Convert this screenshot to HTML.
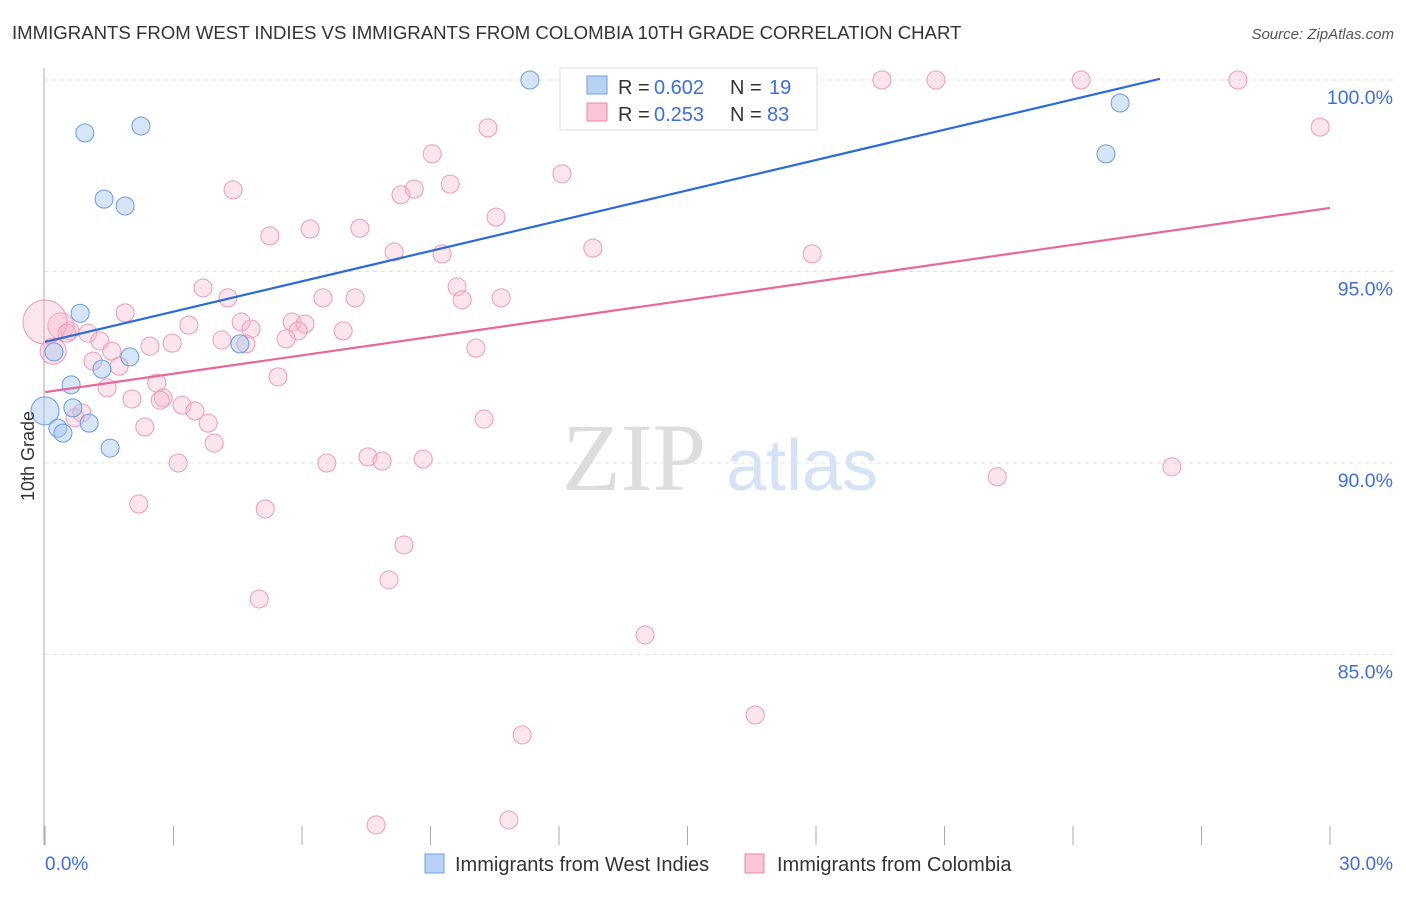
<!DOCTYPE html>
<html><head><meta charset="utf-8"><style>
body{margin:0;background:#fff;font-family:"Liberation Sans",sans-serif}
svg text{font-family:"Liberation Sans",sans-serif}
</style></head><body>
<svg id="c" width="1406" height="892" xmlns="http://www.w3.org/2000/svg">
<text x="12" y="39" font-size="18.6" fill="#333">IMMIGRANTS FROM WEST INDIES VS IMMIGRANTS FROM COLOMBIA 10TH GRADE CORRELATION CHART</text>
<text x="1394" y="39" font-size="15" fill="#555" font-style="italic" text-anchor="end">Source: ZipAtlas.com</text>
<g><text x="634" y="490" font-size="96" fill="#ddd" text-anchor="middle" style="font-family:'Liberation Serif',serif">ZIP</text><text x="802" y="490" font-size="72" fill="#d5e3f5" text-anchor="middle">atlas</text></g>
<g id="grid"></g><g id="axes"></g><g id="pts"></g><g id="lines"></g>
<text x="34" y="456" font-size="18" fill="#333" transform="rotate(-90 34 456)" text-anchor="middle">10th Grade</text>
<g>
<rect x="560" y="68" width="257" height="62" fill="#fff" stroke="#ddd"/>
<rect x="587" y="76" width="20" height="18" fill="#b8d2f5" stroke="#6f9ee0"/>
<text x="618" y="94" font-size="20" fill="#333">R = </text><text x="654" y="94" font-size="20" fill="#3d70d3">0.602</text>
<text x="730" y="94" font-size="20" fill="#333">N = </text><text x="769" y="94" font-size="20" fill="#3d70d3">19</text>
<rect x="587" y="103" width="20" height="18" fill="#f8c6d6" stroke="#e98aab"/>
<text x="618" y="121" font-size="20" fill="#333">R = </text><text x="654" y="121" font-size="20" fill="#3d70d3">0.253</text>
<text x="730" y="121" font-size="20" fill="#333">N = </text><text x="767" y="121" font-size="20" fill="#3d70d3">83</text>
</g>
<g>
<rect x="425" y="854" width="19" height="19" fill="#b8d2f5" stroke="#6f9ee0"/>
<text x="455" y="871" font-size="20" fill="#333">Immigrants from West Indies</text>
<rect x="745" y="854" width="19" height="19" fill="#f8c6d6" stroke="#e98aab"/>
<text x="777" y="871" font-size="20" fill="#333">Immigrants from Colombia</text>
</g>
</svg>
<script>
const yTicks=[100,95,90,85];
const yTickLabels=["100.0%","95.0%","90.0%","85.0%"];
const xTickVals=[0,3,6,9,12,15,18,21,24,27,30];
const xEndLabels=["0.0%","30.0%"];
const blueX=[11.32,0.93,2.24,1.38,1.87,25.10,24.77,0.82,0.21,1.98,4.55,1.33,0.61,0.65,0.0,1.03,0.30,0.42,1.52];
const blueY=[100.0,98.62,98.80,96.89,96.71,99.40,98.07,93.91,92.90,92.77,93.11,92.45,92.04,91.44,91.36,91.04,90.91,90.78,90.39];
const blueR=[9,9,9,9,9,9,9,9,9,9,9,9,9,9,14,9,9,9,9];
const pinkX=[13.85,19.54,20.80,24.19,27.85,10.34,29.77,9.04,12.07,4.39,9.46,8.62,8.31,10.53,7.35,6.19,5.25,12.79,8.15,9.27,17.91,3.69,9.62,4.27,6.49,7.24,9.74,10.65,1.87,3.36,4.58,5.77,6.07,4.81,6.96,0.37,0.58,1.00,5.91,0.0,4.13,1.28,2.45,2.97,5.63,4.69,1.56,10.06,0.19,1.12,1.73,5.44,2.61,1.45,2.03,2.76,0.86,3.20,3.50,3.81,10.25,2.33,3.95,3.11,6.58,7.54,7.87,8.83,26.31,22.23,2.19,5.14,8.38,8.03,5.00,14.01,16.58,11.14,7.73,10.83,0.51,0.70,2.69];
const pinkY=[100.0,100.0,100.0,100.0,100.0,98.75,98.77,98.07,97.55,97.13,97.28,97.15,97.00,96.42,96.13,96.11,95.93,95.61,95.51,95.46,95.46,94.57,94.60,94.31,94.31,94.31,94.26,94.31,93.92,93.60,93.68,93.68,93.63,93.50,93.45,93.58,93.45,93.39,93.45,93.68,93.21,93.19,93.05,93.13,93.24,93.11,92.92,93.00,92.92,92.66,92.53,92.25,92.09,91.96,91.67,91.70,91.31,91.51,91.36,91.04,91.15,90.94,90.52,90.00,90.00,90.16,90.05,90.10,89.90,89.64,88.93,88.80,87.86,86.95,86.45,85.51,83.42,82.90,80.55,80.68,93.39,91.18,91.64];
const pinkR=pinkX.map((v,i)=>i===39?22:(i===35||i===48?13:9));
const blueTrendX=[0,26.03];
const blueTrendY=[93.16,100.03];
const pinkTrendX=[0,30];
const pinkTrendY=[91.85,96.66];
const X=p=>45+p*(1285/30);
const Y=v=>80+(100-v)*38.3;
const NS="http://www.w3.org/2000/svg";
function mk(t,a,parent){const e=document.createElementNS(NS,t);for(const k in a)e.setAttribute(k,a[k]);document.getElementById(parent).appendChild(e);return e;}
yTicks.forEach((v,i)=>{
 const l=mk('line',{x1:45,x2:1393,y1:Y(v),y2:Y(v),stroke:'#e0e0e0','stroke-dasharray':'4 4'},'grid');
 
 
 const t=mk('text',{x:1393,y:Y(v)+24,'font-size':19.5,fill:'#3d70d3','text-anchor':'end'},'grid');t.textContent=yTickLabels[i];
 
 
});
const ax=mk('line',{x1:44,x2:44,y1:68,y2:845,stroke:'#aaa'},'axes');


xTickVals.forEach(v=>{
 const t=mk('line',{x1:X(v),x2:X(v),y1:826,y2:845,stroke:'#aaa'},'axes');
 
 
});
const xl0=mk('text',{x:45,y:870,'font-size':19,fill:'#3d70d3'},'axes');xl0.textContent=xEndLabels[0];


const xl1=mk('text',{x:1393,y:870,'font-size':19,fill:'#3d70d3','text-anchor':'end'},'axes');xl1.textContent=xEndLabels[1];


pinkX.forEach((v,i)=>{
 const c=mk('circle',{cx:X(v),cy:Y(pinkY[i]),r:pinkR[i],fill:'rgba(245,180,200,0.35)',stroke:'#ee9ab6','stroke-width':1},'pts');
 
 
});
blueX.forEach((v,i)=>{
 const c=mk('circle',{cx:X(v),cy:Y(blueY[i]),r:blueR[i],fill:'rgba(165,198,240,0.45)',stroke:'#6a9be0','stroke-width':1},'pts');
 
 
});
const bl=mk('line',{x1:X(blueTrendX[0]),y1:Y(blueTrendY[0]),x2:X(blueTrendX[1]),y2:Y(blueTrendY[1]),stroke:'#2a6bd6','stroke-width':2.2},'lines');


const pl=mk('line',{x1:X(pinkTrendX[0]),y1:Y(pinkTrendY[0]),x2:X(pinkTrendX[1]),y2:Y(pinkTrendY[1]),stroke:'#e8679a','stroke-width':2.2},'lines');


</script>
</body></html>
